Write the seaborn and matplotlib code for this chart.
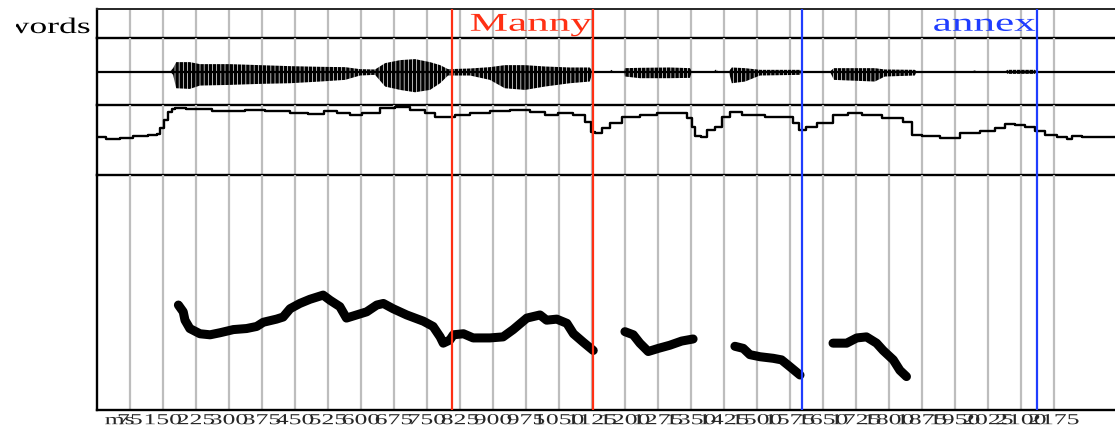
import numpy as np
import pandas as pd
import matplotlib
matplotlib.use("Agg")
import matplotlib.pyplot as plt
import seaborn as sns
from matplotlib.patheffects import AbstractPathEffect
from matplotlib.transforms import Affine2D, Bbox, TransformedBbox

# ---------------- data ----------------
tick_ms = [75, 150, 225, 300, 375, 450, 525, 600, 675, 750, 825, 900, 975, 1050,
           1125, 1200, 1275, 1350, 1425, 1500, 1575, 1650, 1725, 1800, 1875, 1950,
           2025, 2100, 2175]
tick_labels = ["75", "150", "225", "300", "375", "450", "525", "600", "675", "750",
               "825", "900", "975", "1050", "1125", "1200", "1275", "1350", "1425",
               "1500", "1575", "1650", "1725", "1800", "1875", "1950", "2025", "2100",
               "2175"]

word_labels = ["Manny", "annex"]
word_start_ms = [807, 1602]
word_end_ms = [1127, 2136]
word_colors = ["#ff3014", "#1f3dff"]

# waveform envelope (normalised amplitude)
wave_ms = [0, 166, 173, 180, 211, 234, 302, 370, 439, 507, 564, 598, 632, 655, 689,
           723, 757, 780, 798, 848, 893, 927, 973, 1018, 1075, 1120, 1127, 1165, 1170,
           1175, 1198, 1200, 1234, 1302, 1348, 1352, 1402, 1407, 1412, 1436, 1443, 1473,
           1507, 1598, 1602, 1666, 1675, 1768, 1791, 1859, 1863, 1990, 1995, 2000, 2064,
           2070, 2132, 2136, 2314]
wave_top = [0, 0, 0.10, 0.28, 0.28, 0.22, 0.22, 0.19, 0.16, 0.14, 0.13, 0.07, 0.06, 0.25,
            0.34, 0.37, 0.28, 0.19, 0.07, 0.09, 0.13, 0.19, 0.19, 0.15, 0.12, 0.12, 0, 0,
            0.05, 0, 0, 0.10, 0.11, 0.12, 0.10, 0, 0, 0.06, 0, 0, 0.12, 0.10, 0.05, 0.05,
            0, 0, 0.10, 0.10, 0.06, 0.05, 0, 0, 0.04, 0, 0, 0.05, 0.05, 0, 0]
wave_bottom = [0, 0, -0.10, -0.50, -0.52, -0.42, -0.40, -0.37, -0.35, -0.30, -0.25, -0.12,
               -0.10, -0.45, -0.55, -0.62, -0.55, -0.35, -0.12, -0.12, -0.25, -0.50, -0.55,
               -0.45, -0.35, -0.30, 0, 0, -0.02, 0, 0, -0.15, -0.20, -0.20, -0.19, 0, 0, 0,
               0, 0, -0.35, -0.30, -0.12, -0.10, 0, 0, -0.25, -0.30, -0.15, -0.12, 0, 0, 0,
               0, 0, -0.07, -0.07, 0, 0]

# intensity contour (dB)
intensity_ms = [0, 41, 64, 98, 132, 139, 148, 157, 166, 173, 182, 223, 302, 370, 393, 427,
                450, 507, 525, 564, 586, 620, 666, 689, 734, 757, 780, 802, 825, 870, 916,
                961, 1007, 1030, 1064, 1098, 1120, 1127, 1139, 1155, 1177, 1211, 1257, 1291,
                1336, 1348, 1355, 1364, 1382, 1393, 1416, 1427, 1450, 1484, 1552, 1575,
                1591, 1602, 1620, 1655, 1689, 1723, 1757, 1814, 1848, 1859, 1893, 1939,
                1984, 2030, 2052, 2075, 2098, 2120, 2143, 2166, 2200, 2211, 2223, 2257, 2314]
intensity_db = [66.7, 65.4, 66.1, 67.3, 67.9, 68.4, 71.9, 76.4, 81.0, 82.7, 83.3, 82.7, 81.7,
                82.4, 81.3, 81.3, 80.4, 80.1, 81.7, 80.4, 79.3, 80.4, 83.3, 83.7, 82.1, 80.4,
                78.0, 78.3, 79.3, 80.3, 81.7, 82.1, 81.2, 79.3, 80.6, 79.3, 75.5, 69.7, 69.0,
                71.9, 74.7, 78.0, 79.3, 80.6, 80.3, 77.6, 72.6, 67.3, 66.9, 70.7, 72.6, 78.3,
                81.2, 79.3, 78.0, 78.0, 74.7, 70.7, 72.6, 74.9, 79.3, 80.6, 79.3, 77.4, 75.5,
                67.9, 67.3, 66.0, 68.8, 70.3, 71.7, 74.1, 73.6, 72.3, 70.3, 67.9, 66.9, 65.4,
                67.3, 66.9, 66.9]

# pitch track (Hz), one list pair per voiced stretch
f0_run1_ms = [185, 196, 200, 211, 234, 257, 280, 310, 340, 363, 378, 408, 423, 439, 461,
              484, 514, 530, 552, 567, 590, 613, 636, 651, 673, 704, 742, 764, 780, 787,
              802, 810, 833, 855, 893, 923, 946, 977, 1007, 1022, 1045, 1068, 1083, 1105,
              1128]
f0_run1_hz = [175.5, 169, 161, 153, 148, 147, 149, 152, 153, 155, 159, 162, 164, 172, 177,
              181, 185, 180, 174, 163, 166, 169, 175.5, 177, 172, 166, 160, 155, 145, 139,
              142, 147, 148, 144, 144, 145, 152, 163, 166, 161, 162, 158, 148, 140, 132]
f0_run2_ms = [1200, 1219, 1234, 1253, 1276, 1302, 1329, 1355]
f0_run2_hz = [150, 147, 139, 131, 134, 137, 141, 143]
f0_run3_ms = [1450, 1469, 1484, 1507, 1537, 1556, 1575, 1598]
f0_run3_hz = [136, 134, 128, 126, 124.5, 123, 116.5, 108.5]
f0_run4_ms = [1673, 1704, 1727, 1749, 1772, 1787, 1810, 1825, 1840]
f0_run4_hz = [139, 139, 144, 145, 139, 132, 123, 113, 107]


# ---------------- helpers ----------------
class Widen(AbstractPathEffect):
    """Draw text glyphs stretched horizontally about a pivot."""

    def __init__(self, sx, pivot="center"):
        super().__init__()
        self.sx = sx
        self.pivot = pivot

    def draw_path(self, renderer, gc, tpath, affine, rgbFace=None):
        ext = tpath.get_extents()
        px = {"left": ext.x0, "center": 0.5 * (ext.x0 + ext.x1), "right": ext.x1}[self.pivot]
        stretch = Affine2D().translate(-px, 0).scale(self.sx, 1.0).translate(px, 0)
        renderer.draw_path(gc, tpath, stretch + affine, rgbFace)


sns.set_style("white")
plt.rcParams["font.family"] = ["Liberation Serif", "DejaVu Serif"]
plt.rcParams["hatch.linewidth"] = 2.5
plt.rcParams["hatch.color"] = "black"

W, H = 1115, 430
fig = plt.figure(figsize=(W / 100, H / 100), dpi=100)
left = 97 / W


def rect(top, bottom):
    return [left, 1 - bottom / H, 1 - left, (bottom - top) / H]


ax_words = fig.add_axes(rect(9, 38))
ax_wave = fig.add_axes(rect(38, 105), sharex=ax_words)
ax_int = fig.add_axes(rect(105, 175), sharex=ax_words)
ax_f0 = fig.add_axes(rect(175, 410), sharex=ax_words)
axes = [ax_words, ax_wave, ax_int, ax_f0]

GRID = "#bdbdbd"
for ax in axes:
    ax.set_facecolor("none")
    for side in ("top", "right"):
        ax.spines[side].set_visible(False)
    for side in ("left", "bottom"):
        ax.spines[side].set_linewidth(1.7)
        ax.spines[side].set_color("black")
    ax.set_yticks([])
    ax.set_xticks(tick_ms)
    ax.tick_params(axis="x", length=0, labelbottom=False)
    ax.grid(axis="x", color=GRID, linewidth=1.6)
    ax.set_axisbelow(True)
    for s, e, c in zip(word_start_ms, word_end_ms, word_colors):
        ax.axvline(s, color=c, linewidth=1.6, zorder=3)
        ax.axvline(e, color=c, linewidth=1.6, zorder=3)

ax_words.spines["top"].set_visible(True)
ax_words.spines["top"].set_linewidth(1.4)
ax_f0.set_xlim(0, 2314)

# word tier
ax_words.set_ylim(0, 1)
for lab, e, c in zip(word_labels, word_end_ms, word_colors):
    ax_words.text(e - 2, 0.25, lab, ha="right", va="baseline", color=c, fontsize=18.5,
                  path_effects=[Widen(1.68, "right")])

tier_name = fig.text(90 / W, 1 - 33 / H, "words", ha="right", va="baseline",
                     fontsize=16, color="black", path_effects=[Widen(1.6, "right")])
tier_name.set_clip_box(TransformedBbox(Bbox([[16 / W, 0], [1, 1]]), fig.transFigure))
tier_name.set_clip_on(True)

# waveform: glottal-pulse comb inside the amplitude envelope
ax_wave.set_ylim(-1, 1)
ax_wave.axhline(0, color="black", linewidth=1.6, zorder=2)
ax_wave.fill_between(wave_ms, wave_bottom, wave_top, facecolor="none", edgecolor="black",
                     hatch="||||", linewidth=0, zorder=2)

# intensity
ax_int.set_ylim(45, 85)
sns.lineplot(x=intensity_ms, y=intensity_db, ax=ax_int, color="black", linewidth=1.7,
             estimator=None, sort=False, legend=False, drawstyle="steps-mid")
ax_int.set_ylabel("")

# pitch
runs = [(f0_run1_ms, f0_run1_hz), (f0_run2_ms, f0_run2_hz),
        (f0_run3_ms, f0_run3_hz), (f0_run4_ms, f0_run4_hz)]
f0 = pd.concat([pd.DataFrame({"ms": m, "hz": h, "run": i}) for i, (m, h) in enumerate(runs)])
ax_f0.set_ylim(75, 300)
sns.lineplot(data=f0, x="ms", y="hz", units="run", estimator=None, sort=False, ax=ax_f0,
             color="black", linewidth=6.5, solid_capstyle="round", legend=False)
ax_f0.set_ylabel("")
ax_f0.set_xlabel("")

# time axis labels, drawn widened below the bottom axis
label_tf = ax_f0.get_xaxis_transform()
for t, lab in zip(tick_ms, tick_labels):
    ax_f0.annotate(lab, xy=(t, 0), xycoords=label_tf, xytext=(0, -3),
                   textcoords="offset points", ha="center", va="top", fontsize=11,
                   path_effects=[Widen(1.68, "center")], annotation_clip=False)
ax_f0.annotate("ms", xy=(18, 0), xycoords=label_tf, xytext=(0, -3),
               textcoords="offset points", ha="left", va="top", fontsize=11,
               path_effects=[Widen(1.68, "left")], annotation_clip=False)

fig.savefig("out.png", dpi=100)
